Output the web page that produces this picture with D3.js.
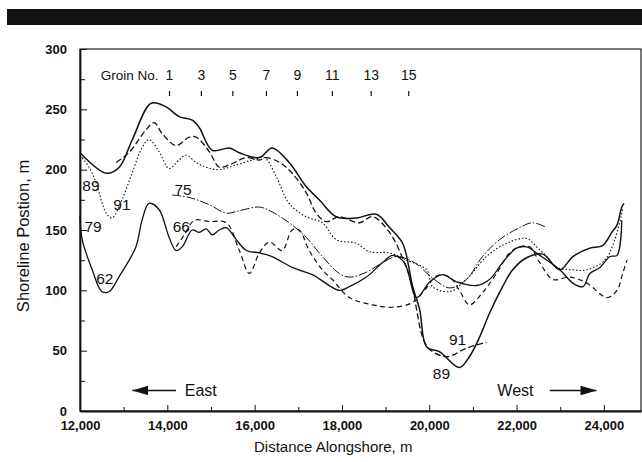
<!DOCTYPE html>
<html>
<head>
<meta charset="utf-8">
<script src="https://cdn.jsdelivr.net/npm/d3@7"></script>
<style>
  body { margin: 0; background: #fff; }
  text { font-family: "Liberation Sans", Arial, sans-serif; fill: #111; }
</style>
</head>
<body>
<div id="chart"></div>
<script>
// shoreline surveys, [distance alongshore (m), shoreline position (m)]
const s62 = [[12000,162],[12050,142],[12280,117],[12500,99],[12670,99],[12890,111],[13280,136],[13420,158],[13580,172],[13810,167],[14040,144],[14200,133],[14340,136],[14570,150],[14730,148],[14890,151],[15030,146],[15190,150],[15350,152],[15580,142],[15810,133],[16110,131],[16400,128],[16860,119],[17320,113],[17940,100],[18170,103],[18560,111],[18930,123],[19160,129],[19430,123],[19710,94],[20010,107],[20300,113],[20630,107],[21080,104],[21380,109],[21680,123],[22000,135],[22230,136],[22530,129],[22990,117],[23290,106],[23520,103],[23680,114],[23910,119],[24140,128],[24300,129],[24410,158]];
const s66 = [[14200,136],[14390,146],[14620,158],[14960,157],[15350,156],[15650,133],[15880,114],[16110,131],[16340,140],[16630,133],[16860,150],[17020,150],[17250,133],[17550,117],[17780,109],[18170,94],[18700,88],[19160,86],[19620,90],[19890,100],[20170,112],[20470,111],[20690,100],[20920,88],[21220,98],[21540,114],[21840,131],[22070,136],[22300,136],[22530,123],[22830,109],[23220,111],[23610,106],[24070,94],[24300,100],[24430,114],[24530,125]];
const s75 = [[14110,179],[14500,177],[14960,171],[15350,164],[15650,166],[16110,169],[16400,165],[16790,156],[17180,144],[17550,128],[17940,114],[18170,111],[18560,115],[18930,123],[19250,128],[19660,123],[20080,110],[20470,102],[20850,109],[21220,128],[21610,142],[22070,152],[22370,156],[22690,152]];
const s79 = [[12000,212],[12210,202],[12370,189],[12600,164],[12730,160],[12960,175],[13190,197],[13420,218],[13580,225],[13810,215],[14040,201],[14270,208],[14430,212],[14660,206],[14890,202],[15190,200],[15580,204],[15950,208],[16220,210],[16500,194],[16790,172],[17180,161],[17550,156],[17870,142],[18330,139],[18630,132],[19090,131],[19480,125],[19940,117],[20080,103],[20470,99],[20850,109],[21310,128],[21770,139],[22230,143],[22460,136],[22690,128],[22920,119],[23290,117],[23610,117],[24020,125],[24250,142],[24430,167]];
const s89 = [[12000,214],[12600,197],[12900,202],[13200,225],[13630,255],[13970,252],[14270,244],[14570,241],[14730,235],[15030,216],[15420,218],[15650,214],[16110,210],[16400,218],[16790,206],[17180,186],[17480,175],[17870,161],[18330,160],[18790,163],[19090,152],[19390,139],[19620,103],[19780,84],[19940,53],[20240,49],[20690,36],[20920,45],[21150,61],[21380,81],[21680,103],[21910,117],[22230,127],[22600,130],[22990,117],[23290,128],[23680,135],[23970,137],[24180,148],[24300,154],[24410,169],[24460,172]];
const s91 = [[12830,206],[13120,214],[13510,233],[13700,239],[13880,230],[14200,220],[14500,227],[14660,227],[14960,215],[15190,202],[15420,204],[15810,210],[16110,208],[16270,210],[16570,206],[16860,197],[17180,181],[17410,164],[17640,157],[17940,161],[18400,156],[18700,161],[19090,148],[19430,123],[19620,102],[19710,84],[19850,61],[20010,51],[20400,45],[20850,52],[21310,57]];

const series = [
  {name:'62', values:s62, dash:null, w:1.3},
  {name:'66', values:s66, dash:'5,3.5', w:1.2},
  {name:'75', values:s75, dash:'9,2,1.5,2', w:1},
  {name:'79', values:s79, dash:'1.5,2', w:1.1},
  {name:'89', values:s89, dash:null, w:1.5},
  {name:'91', values:s91, dash:'6,3', w:1.3}
];

// year labels placed next to the curves
const yearLabels = [
  {t:'89', x:12250, y:187}, {t:'91', x:12960, y:171}, {t:'79', x:12300, y:153},
  {t:'75', x:14360, y:184}, {t:'66', x:14320, y:153}, {t:'62', x:12570, y:110},
  {t:'91', x:20650, y:59}, {t:'89', x:20280, y:31}
];

const groinNo = [1,3,5,7,9,11,13,15];
const groinPos = [14050,14780,15500,16270,16980,17780,18670,19530];

const xTicks = d3.range(12000, 24001, 2000);
const yTicks = d3.range(0, 301, 50);

const W = 642, H = 462;
const margin = {t:49, r:1, b:51, l:80};
const w = W - margin.l - margin.r;
const h = H - margin.t - margin.b;

const svg = d3.select('#chart').append('svg')
  .attr('width', W).attr('height', H);

// black header bar
svg.append('rect').attr('x', 7).attr('y', 9).attr('width', 635).attr('height', 16).attr('fill', '#111');

const plot = svg.append('g').attr('transform', `translate(${margin.l},${margin.t})`);

const x = d3.scaleLinear().domain([12000, 24850]).range([0, w]);
const y = d3.scaleLinear().domain([0, 300]).range([h, 0]);

// frame
plot.append('rect').attr('width', w).attr('height', h)
  .attr('fill', 'none').attr('stroke', '#222').attr('stroke-width', 1.2);

// x axis, ticks pointing inward
const xAxis = plot.append('g').attr('transform', `translate(0,${h})`)
  .call(d3.axisBottom(x).tickValues(xTicks).tickSizeInner(-6).tickSizeOuter(0).tickPadding(10)
    .tickFormat(d3.format(',')));
xAxis.select('.domain').attr('stroke', '#111').attr('stroke-width', 1.8);
xAxis.selectAll('text').style('font-size', '13px').style('font-weight', 'bold').attr('fill', '#111');
xAxis.selectAll('line').attr('stroke', '#111');
plot.append('g').attr('transform', `translate(0,${h})`)
  .call(d3.axisBottom(x).tickValues(d3.range(13000, 24001, 2000)).tickSize(-4).tickFormat(''))
  .call(g => g.select('.domain').remove())
  .selectAll('line').attr('stroke', '#111');

// y axis
const yAxis = plot.append('g')
  .call(d3.axisLeft(y).tickValues(yTicks).tickSizeInner(-7).tickSizeOuter(0).tickPadding(13));
yAxis.select('.domain').attr('stroke', '#111').attr('stroke-width', 1.8);
yAxis.selectAll('text').style('font-size', '13px').style('font-weight', 'bold').attr('fill', '#111');
yAxis.selectAll('line').attr('stroke', '#111');
plot.append('g')
  .call(d3.axisLeft(y).tickValues(d3.range(25, 300, 50)).tickSize(-5).tickFormat(''))
  .call(g => g.select('.domain').remove())
  .selectAll('line').attr('stroke', '#111');

// axis titles
svg.append('text').attr('x', margin.l + x(17800)).attr('y', 452)
  .attr('text-anchor', 'middle').style('font-size', '15px').text('Distance Alongshore, m');
svg.append('text').attr('transform', `translate(29,236) rotate(-90)`)
  .attr('text-anchor', 'middle').style('font-size', '16.5px').text('Shoreline Postion, m');

// groin numbers
plot.append('text').attr('x', x(13800)).attr('y', 31).attr('text-anchor', 'end')
  .style('font-size', '13.5px').text('Groin No.');
groinNo.forEach(function(g, i){
  plot.append('text').attr('x', x(groinPos[i])).attr('y', 31).attr('text-anchor', 'middle')
    .style('font-size', '14px').text(g);
  plot.append('line').attr('x1', x(groinPos[i])).attr('x2', x(groinPos[i]))
    .attr('y1', 42).attr('y2', 47).attr('stroke', '#111').attr('stroke-width', 1.2);
});

// shoreline curves
const line = d3.line().x(d => x(d[0])).y(d => y(d[1])).curve(d3.curveCatmullRom.alpha(0.5));
plot.selectAll('path.shore').data(series).join('path')
  .attr('class', 'shore')
  .attr('d', d => line(d.values))
  .attr('fill', 'none')
  .attr('stroke', '#111')
  .attr('stroke-width', d => d.w)
  .attr('stroke-dasharray', d => d.dash);

plot.selectAll('text.yr').data(yearLabels).join('text')
  .attr('class', 'yr')
  .attr('x', d => x(d.x)).attr('y', d => y(d.y)).attr('dy', '0.36em')
  .attr('text-anchor', 'middle').style('font-size', '15.5px')
  .text(d => d.t);

// direction arrows
svg.append('defs').append('marker').attr('id', 'head').attr('viewBox', '0 0 10 6')
  .attr('refX', 10).attr('refY', 3).attr('markerWidth', 16).attr('markerHeight', 10)
  .attr('markerUnits', 'userSpaceOnUse').attr('orient', 'auto')
  .append('path').attr('d', 'M0,0L10,3L0,6Z').attr('fill', '#111');

plot.append('line').attr('x1', x(14200)).attr('x2', x(13200))
  .attr('y1', y(17)).attr('y2', y(17)).attr('stroke', '#111').attr('stroke-width', 1.5)
  .attr('marker-end', 'url(#head)');
plot.append('text').attr('x', x(14400)).attr('y', y(17)).attr('dy', '0.36em')
  .style('font-size', '16px').text('East');
plot.append('text').attr('x', x(21560)).attr('y', y(17)).attr('dy', '0.36em')
  .style('font-size', '16px').text('West');
plot.append('line').attr('x1', x(22760)).attr('x2', x(23830))
  .attr('y1', y(17)).attr('y2', y(17)).attr('stroke', '#111').attr('stroke-width', 1.5)
  .attr('marker-end', 'url(#head)');
</script>
</body>
</html>
